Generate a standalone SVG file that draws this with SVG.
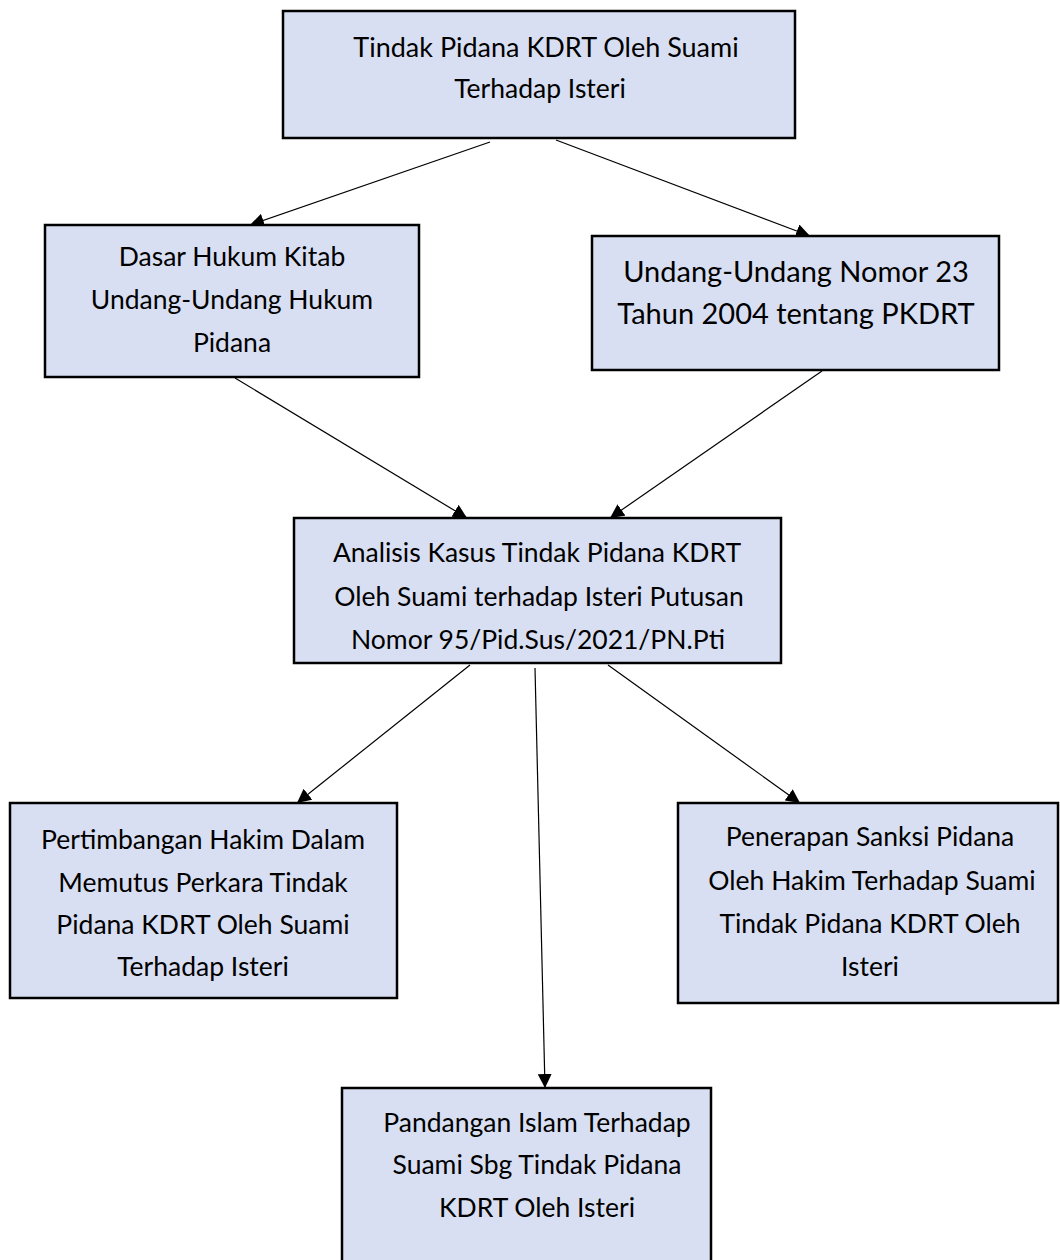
<svg xmlns="http://www.w3.org/2000/svg" width="1060" height="1260" viewBox="0 0 1060 1260">
<style>
.box{fill:#d9dff2;stroke:#000;stroke-width:2.5}
.t{font-family:Lato,"Open Sans","Liberation Sans",sans-serif;font-size:26.5px;fill:#000;text-anchor:middle}
.big{font-size:29px}
.c{stroke:#000;stroke-width:1.2;fill:none;marker-end:url(#ah)}
</style>
<defs>
<marker id="ah" viewBox="0 0 10 10" refX="10" refY="5" markerWidth="14" markerHeight="14" markerUnits="userSpaceOnUse" orient="auto">
<path d="M0,0 L10,5 L0,10 z" fill="#000"/>
</marker>
</defs>
<rect width="1060" height="1260" fill="#fff"/>
<g id="connectors">
<line class="c" x1="490" y1="142" x2="250" y2="225"/>
<line class="c" x1="556" y1="140" x2="810" y2="236"/>
<line class="c" x1="235" y1="378" x2="467" y2="518"/>
<line class="c" x1="822" y1="371" x2="610" y2="518"/>
<line class="c" x1="470" y1="665" x2="297" y2="803"/>
<line class="c" x1="535" y1="668" x2="545" y2="1088"/>
<line class="c" x1="608" y1="665" x2="800" y2="803"/>
</g>
<g id="n1">
<rect class="box" x="283" y="11" width="512" height="127"/>
<text class="t" x="546" y="57" style="font-size:27px">Tindak Pidana KDRT Oleh Suami</text>
<text class="t" x="540" y="98">Terhadap Isteri</text>
</g>
<g id="n2">
<rect class="box" x="45" y="225" width="374" height="152"/>
<text class="t" x="232" y="266">Dasar Hukum Kitab</text>
<text class="t" x="232" y="309">Undang-Undang Hukum</text>
<text class="t" x="232" y="352">Pidana</text>
</g>
<g id="n3">
<rect class="box" x="592" y="236" width="407" height="134"/>
<text class="t big" x="796" y="282">Undang-Undang Nomor 23</text>
<text class="t big" x="796" y="324">Tahun 2004 tentang PKDRT</text>
</g>
<g id="n4">
<rect class="box" x="294" y="518" width="487" height="145"/>
<text class="t" x="537" y="562">Analisis Kasus Tindak Pidana KDRT</text>
<text class="t" x="539" y="606">Oleh Suami terhadap Isteri Putusan</text>
<text class="t" x="538" y="649">Nomor 95/Pid.Sus/2021/PN.Pti</text>
</g>
<g id="n5">
<rect class="box" x="10" y="803" width="387" height="195"/>
<text class="t" x="203" y="849">Pertimbangan Hakim Dalam</text>
<text class="t" x="203" y="892">Memutus Perkara Tindak</text>
<text class="t" x="203" y="934">Pidana KDRT Oleh Suami</text>
<text class="t" x="203" y="976">Terhadap Isteri</text>
</g>
<g id="n6">
<rect class="box" x="678" y="803" width="380" height="200"/>
<text class="t" x="870" y="846">Penerapan Sanksi Pidana</text>
<text class="t" x="872" y="890">Oleh Hakim Terhadap Suami</text>
<text class="t" x="870" y="933">Tindak Pidana KDRT Oleh</text>
<text class="t" x="870" y="976">Isteri</text>
</g>
<g id="n7">
<rect class="box" x="342" y="1088" width="369" height="180"/>
<text class="t" x="537" y="1132">Pandangan Islam Terhadap</text>
<text class="t" x="537" y="1174">Suami Sbg Tindak Pidana</text>
<text class="t" x="537" y="1217">KDRT Oleh Isteri</text>
</g>
</svg>
